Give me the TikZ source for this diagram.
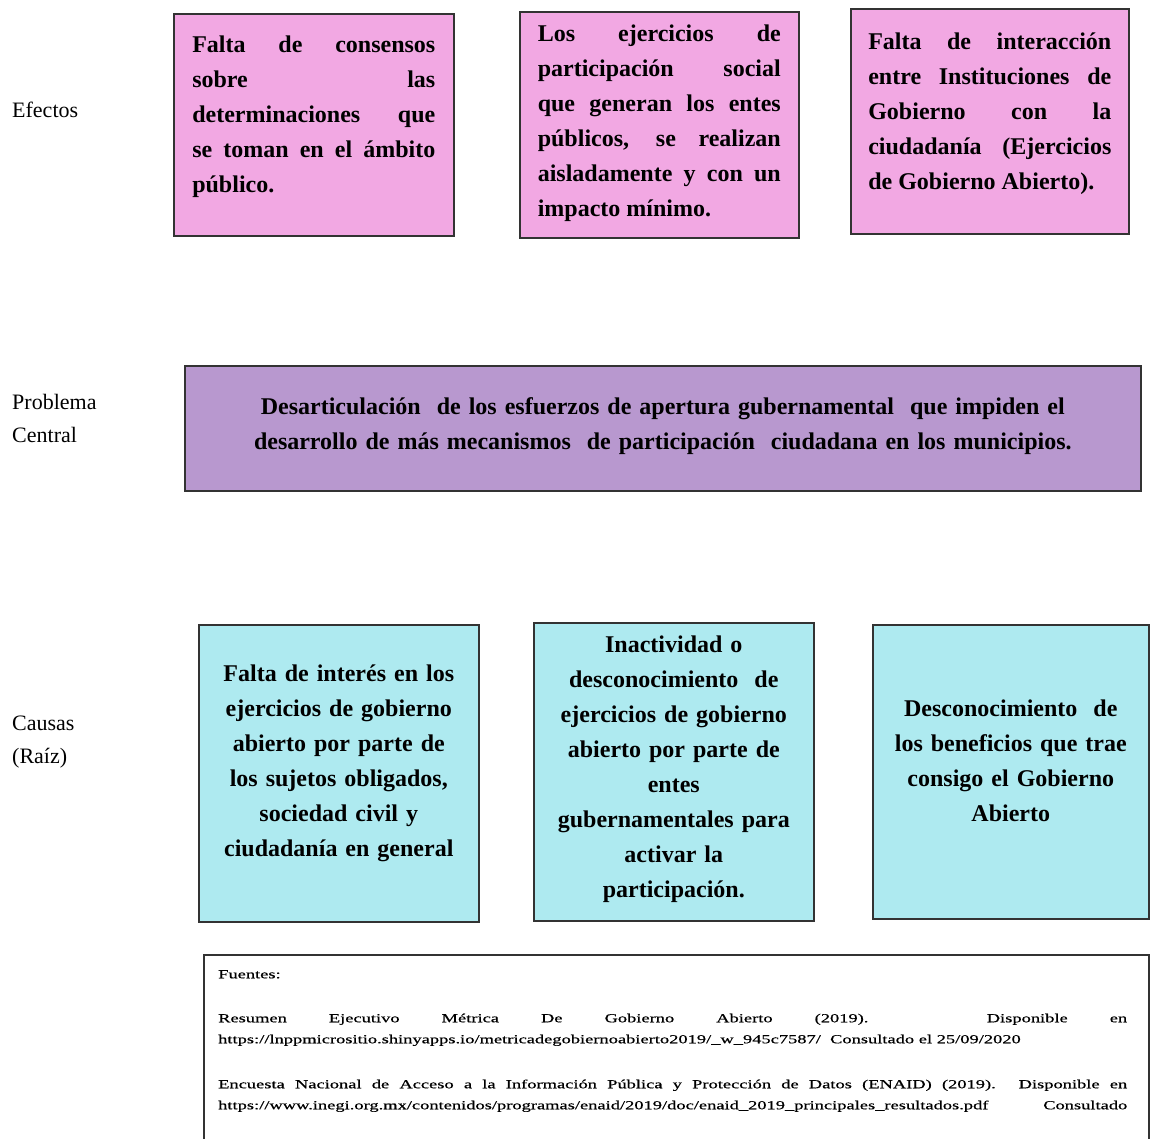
\documentclass[tikz,border=0pt]{standalone}
\usepackage{fontspec}
\setmainfont{Liberation Serif}
\newfontfamily\fuentefont[FakeStretch=1.5, FakeBold=0.6]{Liberation Serif}
\usepackage{tikz}

\definecolor{efectorosa}{HTML}{F2A8E3}
\definecolor{problemamorado}{HTML}{B898CF}
\definecolor{causacian}{HTML}{AEEAF0}
\definecolor{bordegris}{HTML}{333333}
\hyphenpenalty=10000
\exhyphenpenalty=10000
\newcommand{\hueco}[1]{\par\kern#1pt}

\begin{document}
\begin{tikzpicture}[x=1pt, y=-1pt,
    caja/.style={draw=bordegris, line width=1.6pt, anchor=north west, inner xsep=0pt, inner ysep=0pt,
        font=\bfseries\fontsize{24}{35}\selectfont},
    efecto/.style={caja, fill=efectorosa, minimum width=280pt, minimum height=222pt,
        text width=243pt, align=justify},
    causa/.style={caja, fill=causacian, minimum width=280pt, minimum height=297pt,
        text width=250pt, align=center},
    etiqueta/.style={anchor=west, align=left, inner sep=0pt, font=\fontsize{22}{33}\selectfont}]
            \useasboundingbox (0, 0) rectangle (1150, 1138);
            \clip (0, 0) rectangle (1150, 1138);

            \node[etiqueta] (efectos) at (12, 110) {Efectos};
            \node[etiqueta] (central) at (12, 418) {Problema\\Central};
            \node[etiqueta] (causas) at (12, 742) {Causas\\(Raíz)};

            \node[efecto] (efecto1) at (173, 13) {Falta de consensos\linebreak sobre las\linebreak determinaciones que\linebreak se toman en el ámbito\linebreak público.\hueco{16}};
            \node[efecto, minimum width=279pt, minimum height=226pt] (efecto2) at (519, 11) {Los ejercicios de\linebreak participación social\linebreak que generan los entes\linebreak públicos, se realizan\linebreak aisladamente y con un\linebreak impacto mínimo.\hueco{4}};
            \node[efecto, minimum width=278pt, minimum height=225pt] (efecto3) at (850, 8) {Falta de interacción\linebreak entre Instituciones de\linebreak Gobierno con la\linebreak ciudadanía (Ejercicios\linebreak de Gobierno Abierto).\hueco{16}};

            \node[caja, fill=problemamorado, minimum width=956pt, minimum height=125pt, text width=920pt, align=center] (problema) at (184, 365) {Desarticulación\ \ de los esfuerzos de apertura gubernamental\ \ que impiden el\\desarrollo de más mecanismos\ \ de participación\ \ ciudadana en los municipios.\hueco{4}};

            \node[causa] (causa1) at (198, 624) {Falta de interés en los\\ejercicios de gobierno\\abierto por parte de\\los sujetos obligados,\\sociedad civil y\\ciudadanía en general\hueco{20}};
            \node[causa, minimum height=298pt] (causa2) at (533, 622) {Inactividad o\\desconocimiento\ \ de\\ejercicios de gobierno\\abierto por parte de\\entes\\gubernamentales para\\activar la\\participación.\hueco{6}};
            \node[causa, minimum width=276pt, minimum height=294pt] (causa3) at (872, 624) {Desconocimiento\ \ de\\los beneficios que trae\\consigo el Gobierno\\Abierto\hueco{22}};

            \node[draw=bordegris, line width=1.6pt, anchor=north west, minimum width=945pt, minimum height=240pt] (fuentes) at (203, 954) {};
            \node[anchor=north west, inner sep=0pt, text width=909pt, align=justify,
                font=\fuentefont\fontsize{12.3}{21}\selectfont] (fuentestexto) at (218, 970) {Fuentes:\par\vspace{23pt}
                Resumen Ejecutivo Métrica De Gobierno Abierto (2019). Disponible en\linebreak https://lnppmicrositio.shinyapps.io/metricadegobiernoabierto2019/\_w\_945c7587/\ \ Consultado el 25/09/2020\par\vspace{24pt}
                Encuesta Nacional de Acceso a la Información Pública y Protección de Datos (ENAID) (2019). Disponible en\linebreak https://www.inegi.org.mx/contenidos/programas/enaid/2019/doc/enaid\_2019\_principales\_resultados.pdf\ \ \ Consultado\linebreak\mbox{}};
        \end{tikzpicture}
\end{document}
